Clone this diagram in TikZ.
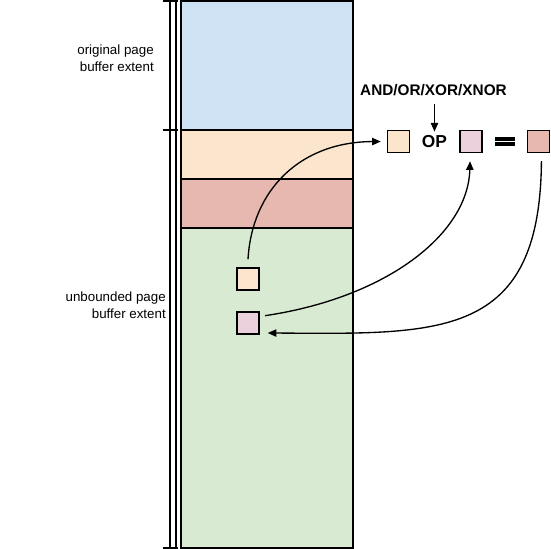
\documentclass[tikz,border=0pt]{standalone}
\usepackage{fontspec}
\setmainfont{Liberation Sans}
\usetikzlibrary{arrows.meta}
\definecolor{cblue}{HTML}{CFE2F3}
\definecolor{corange}{HTML}{FCE5CD}
\definecolor{cred}{HTML}{E6B8AF}
\definecolor{cgreen}{HTML}{D9EAD3}
\definecolor{cpink}{HTML}{EAD1DC}
\tikzset{
  band/.style={draw=black, line width=1.1pt},
  sq/.style={draw=black, line width=1.1pt, minimum size=16.5pt, inner sep=0pt},
  arr/.style={line width=1pt, -{Triangle[length=6.5pt,width=5.5pt]}},
  lbl/.style={font=\fontsize{10}{12.5}\selectfont, align=right, anchor=east, inner sep=0pt},
  brk/.style={line width=1pt},
}
\begin{document}
\begin{tikzpicture}[x=0.75pt,y=-0.75pt]
\useasboundingbox (0,0) rectangle (551,549);
% column bands
\draw[band, fill=cblue] (181,1) rectangle (353,130);
\draw[band, fill=corange] (181,130) rectangle (353,179);
\draw[band, fill=cred] (181,179) rectangle (353,228);
\draw[band, fill=cgreen] (181,228) rectangle (353,548);
% brackets
\draw[brk] (170,1) -- (170,548);
\draw[brk] (176,1) -- (176,548);
\draw[brk] (163,1) -- (178,1);
\draw[brk] (163,130) -- (178,130);
\draw[brk] (163,548) -- (178,548);
\node[lbl] (l1) at (154,58.5) {original page\\buffer extent};
\node[lbl] (l2) at (166,305.5) {unbounded page\\buffer extent};
% squares in column
\node[sq, fill=corange] (co) at (248,279) {};
\node[sq, fill=cpink] (cp) at (248,323) {};
% right expression
\node[sq, fill=corange] (ro) at (398.5,141.5) {};
\node[font=\bfseries\fontsize{13}{15}\selectfont, inner sep=0pt] (op) at (434.5,142) {OP};
\node[sq, fill=cpink] (rp) at (471,141.5) {};
\node[minimum width=15pt, minimum height=6.8pt, inner sep=0pt,
  path picture={
    \fill (path picture bounding box.north west) rectangle ([yshift=-3pt]path picture bounding box.north east);
    \fill ([yshift=3pt]path picture bounding box.south west) rectangle (path picture bounding box.south east);
  }] (eq) at (505,141.7) {};
\node[sq, fill=cred] (rr) at (538.5,141.5) {};
\node[font=\bfseries\fontsize{11.5}{14}\selectfont, inner sep=0pt] (lab) at (433.5,90) {AND/OR/XOR/XNOR};
\draw[arr] ([yshift=-6pt]lab.south -| op.north) -- ([yshift=3pt]op.north);
% curved connectors
\draw[arr] ([yshift=6pt]co.north) .. controls (252,190) and (300,142) .. ([xshift=-4.5pt]ro.west);
\draw[arr] ([xshift=4pt,yshift=5.5pt]cp.east) .. controls (385,298) and (468,235) .. ([xshift=-0.7pt,yshift=-6pt]rp.south);
\draw[arr] ([xshift=2.2pt,yshift=-6pt]rr.south) .. controls (540,340) and (440,334) .. ([xshift=6pt,yshift=-7.5pt]cp.east);
\end{tikzpicture}
\end{document}
